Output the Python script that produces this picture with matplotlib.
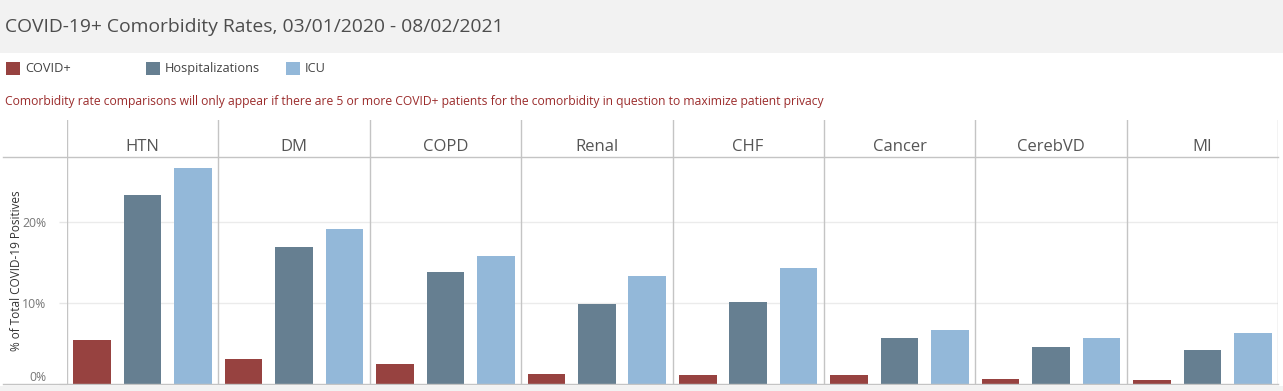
import matplotlib
matplotlib.use("Agg")
import matplotlib.pyplot as plt
from matplotlib.patches import Rectangle
from matplotlib.lines import Line2D

plt.rcParams['font.family'] = ['Open Sans', 'DejaVu Sans']

categories = ["HTN", "DM", "COPD", "Renal", "CHF", "Cancer", "CerebVD", "MI"]
series_names = ["COVID+", "Hospitalizations", "ICU"]
covid = [5.4, 3.1, 2.5, 1.25, 1.1, 1.1, 0.6, 0.5]
hosp = [23.4, 16.9, 13.9, 9.9, 10.2, 5.7, 4.6, 4.2]
icu = [26.8, 19.2, 15.9, 13.4, 14.3, 6.7, 5.7, 6.3]
yticks = [0, 10, 20]
ytick_labels = ["0%", "10%", "20%"]

colors = ["#974240", "#667f91", "#93b8d9"]
W, H = 1283, 391

fig = plt.figure(figsize=(W / 100, H / 100), dpi=100)

def fx(px):
    return px / W

def fy(py):
    return 1 - py / H

# title band
fig.patches.append(Rectangle((0, fy(53)), 1, 53 / H, transform=fig.transFigure,
                             facecolor="#f2f2f2", edgecolor="none", zorder=0))
fig.text(fx(5), fy(27), "COVID-19+ Comorbidity Rates, 03/01/2020 - 08/02/2021",
         fontsize=13.9, color="#4d4d4d", va="center", ha="left", fontweight="medium")

# legend
leg_x = [6, 146, 286]
for name, c, x in zip(series_names, colors, leg_x):
    fig.patches.append(Rectangle((fx(x), fy(75)), 14 / W, 13 / H, transform=fig.transFigure,
                                 facecolor=c, edgecolor="none"))
    fig.text(fx(x + 19), fy(68.5), name, fontsize=9.2, color="#444444", va="center", ha="left")

fig.text(fx(5), fy(102),
         "Comorbidity rate comparisons will only appear if there are 5 or more COVID+ patients for the comorbidity in question to maximize patient privacy",
         fontsize=8.75, color="#9b2c2c", va="center", ha="left")

# main axes
x0, x1 = 67, 1278
ytop, ybot = 157, 384
ax = fig.add_axes([fx(x0), fy(ybot), fx(x1) - fx(x0), (ybot - ytop) / H])
ymax = 28.1
ax.set_xlim(0, len(categories) * 3)
ax.set_ylim(0, ymax)

bw = 0.745
for i in range(len(categories)):
    for j, (vals, c) in enumerate(zip([covid, hosp, icu], colors)):
        ax.bar(i * 3 + j + 0.5, vals[i], width=bw, color=c, zorder=3)

for t in yticks[1:]:
    ax.axhline(t, color="#ebebeb", lw=1, zorder=1)
for i in range(len(categories) + 1):
    ax.axvline(i * 3, color="#c4c4c4", lw=1, zorder=2)

for s in ax.spines.values():
    s.set_visible(False)
ax.set_xticks([])
ax.set_yticks(yticks)
ax.set_yticklabels(ytick_labels, fontsize=8.8, color="#777777")
ax.tick_params(axis="y", length=6, width=1, color="#e6e6e6", pad=9)
for lbl, t in zip(ax.get_yticklabels(), yticks):
    if t == 0:
        lbl.set_va("bottom")
fig.text(fx(17), fy(271), "% of Total COVID-19 Positives", rotation=90,
         fontsize=8.5, color="#333333", ha="center", va="center", fontweight="medium")

# header row
hax = fig.add_axes([fx(x0), fy(ytop), fx(x1) - fx(x0), (ytop - 120) / H])
hax.set_xlim(0, len(categories) * 3)
hax.set_ylim(ytop, 120)
hax.axis("off")
for i, cat in enumerate(categories):
    hax.text(i * 3 + 1.5, 147, cat, ha="center", va="center", fontsize=12,
             color="#555555", fontweight="medium")
for i in range(len(categories) + 1):
    hax.axvline(i * 3, color="#c4c4c4", lw=1)

# horizontal rules
fig.add_artist(Line2D([fx(3), fx(x1)], [fy(ytop), fy(ytop)], color="#c4c4c4", lw=1,
                      transform=fig.transFigure))
fig.add_artist(Line2D([fx(3), fx(x1)], [fy(ybot), fy(ybot)], color="#c4c4c4", lw=1,
                      transform=fig.transFigure))
fig.patches.append(Rectangle((0, 0), 1, 5 / H, transform=fig.transFigure,
                             facecolor="#f2f2f2", edgecolor="none"))

fig.savefig("out.png", dpi=100)
